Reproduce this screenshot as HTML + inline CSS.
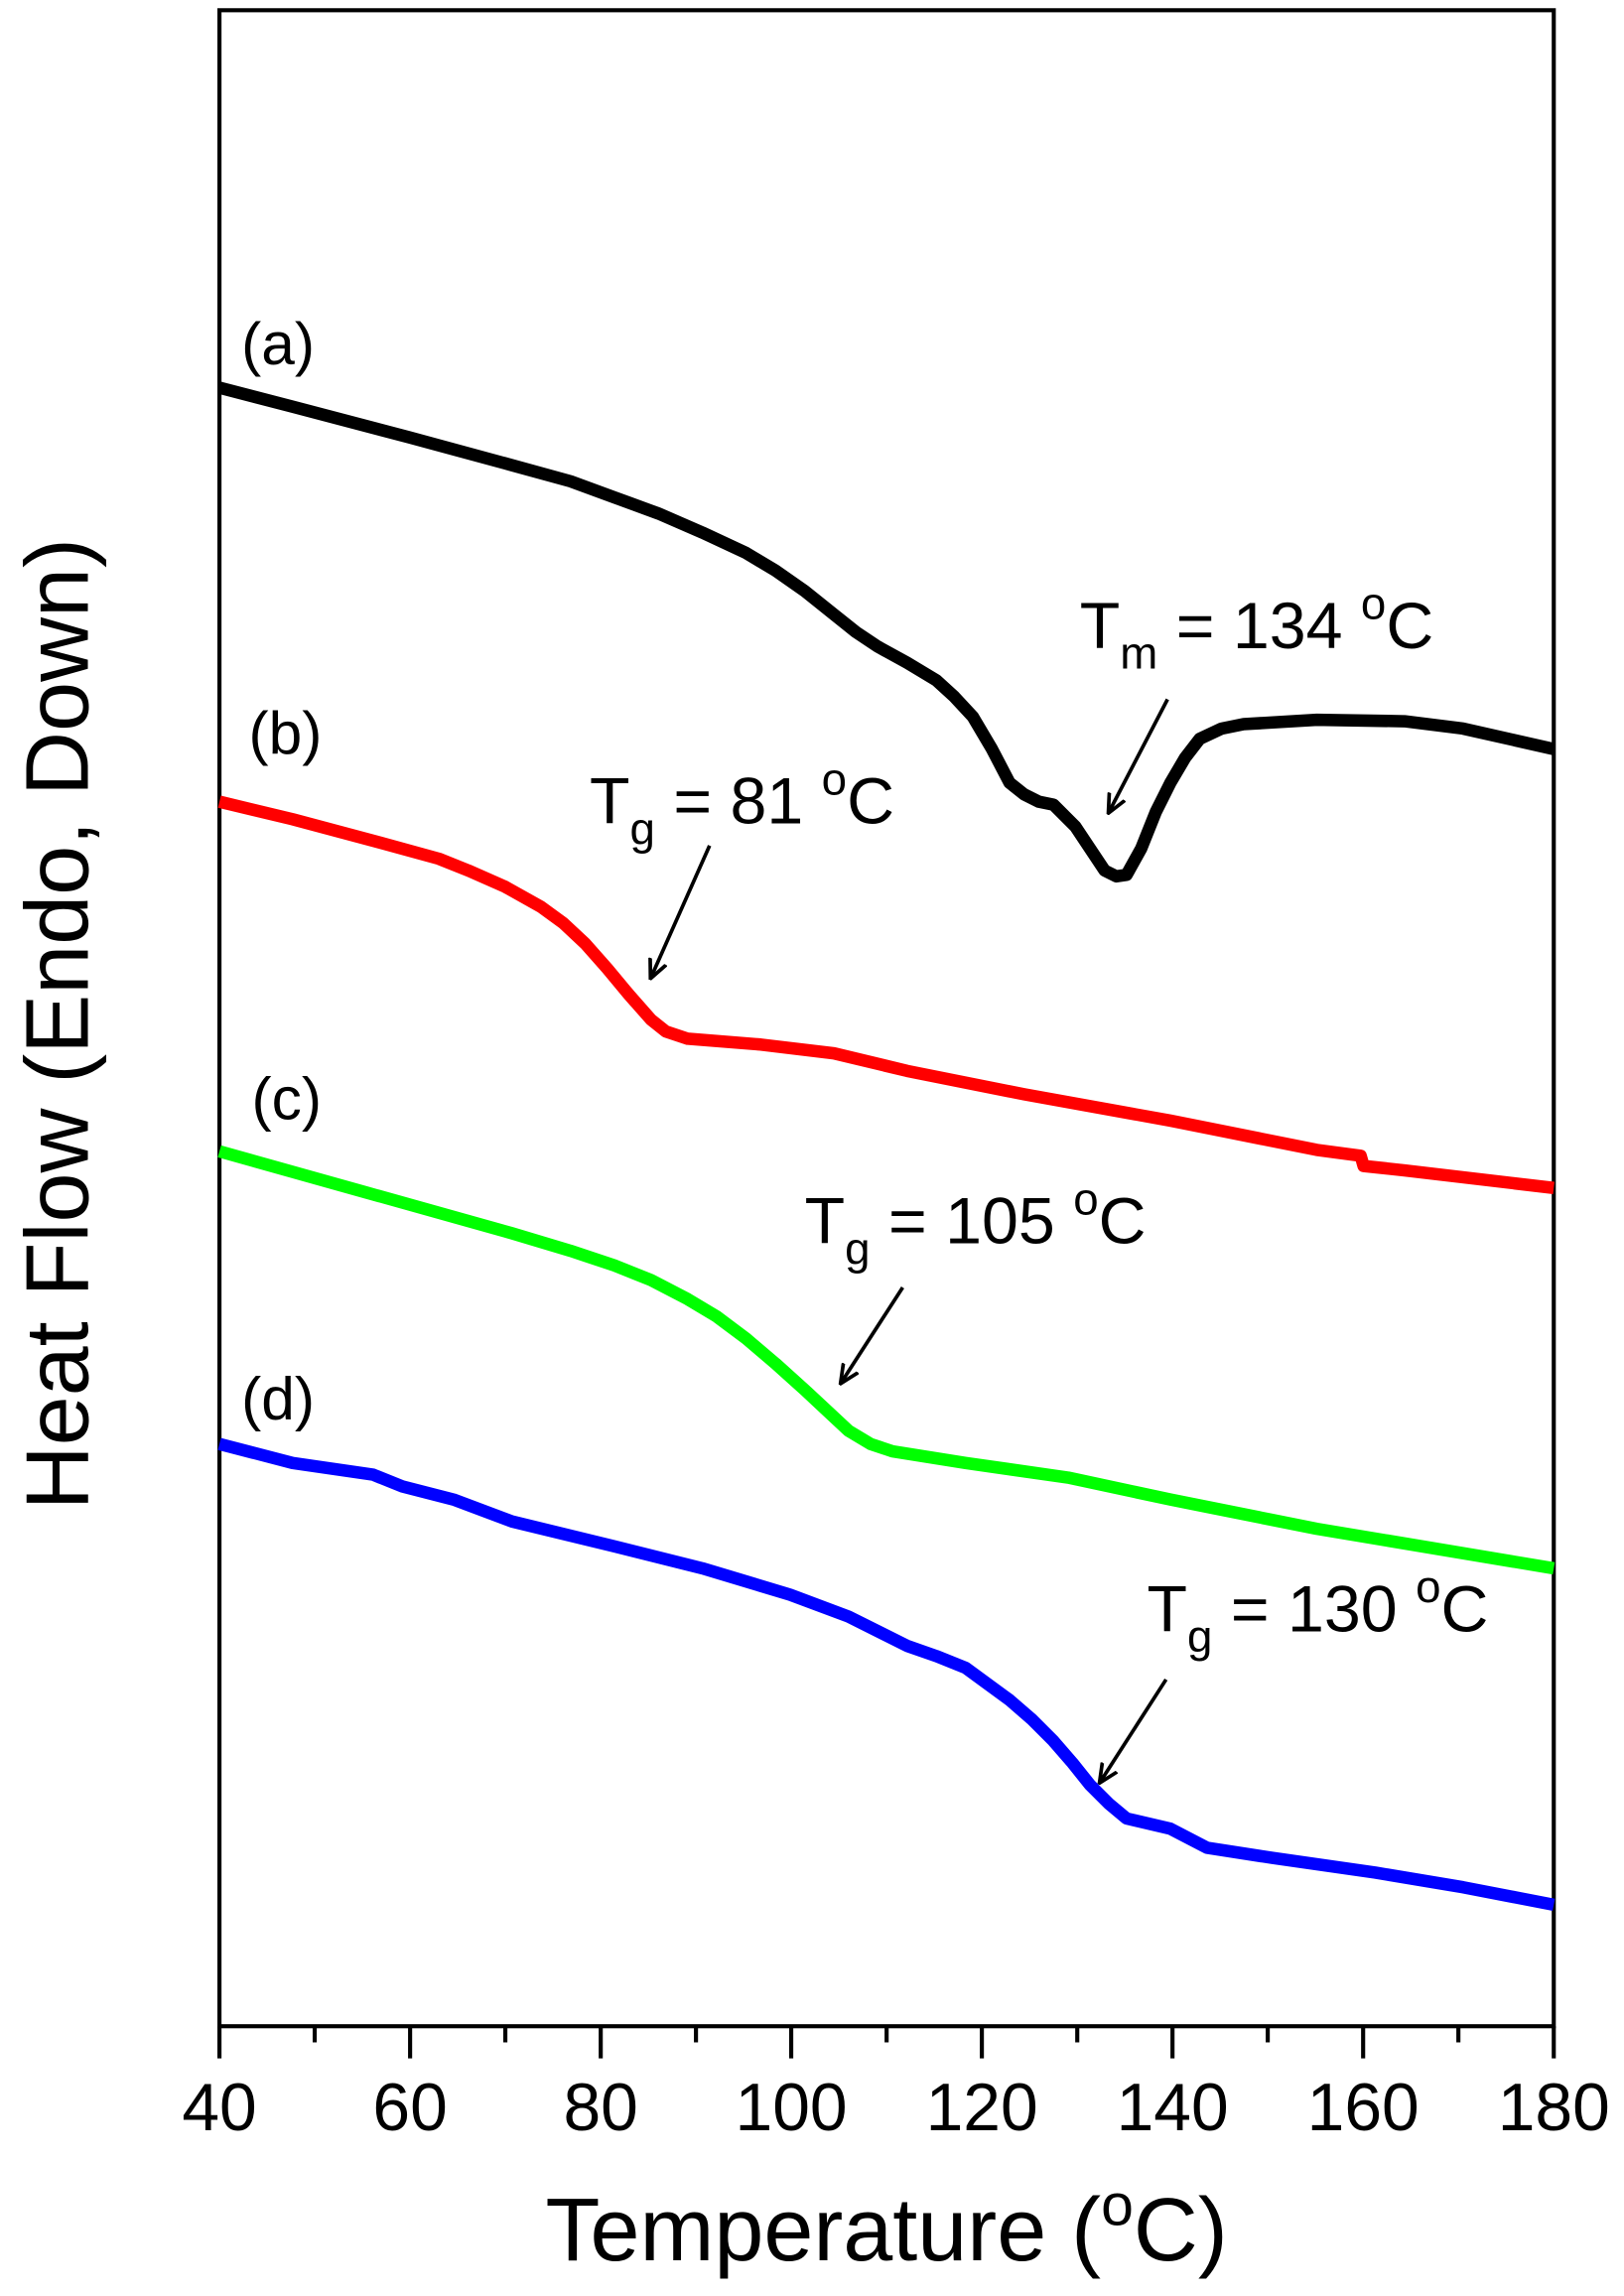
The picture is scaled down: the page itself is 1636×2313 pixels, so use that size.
<!DOCTYPE html>
<html><head><meta charset="utf-8"><style>html,body{margin:0;padding:0;background:#fff}svg{display:block}</style></head>
<body>
<svg width="1636" height="2313" viewBox="0 0 1110 1569.4" preserveAspectRatio="none" xmlns="http://www.w3.org/2000/svg" font-family="Liberation Sans, Arial, sans-serif">
<defs><marker id="ah" markerWidth="14" markerHeight="14" refX="12" refY="7" orient="auto" markerUnits="userSpaceOnUse"><path d="M0,1 L13,7 L0,13" fill="none" stroke="#000" stroke-width="2.5"/></marker></defs>
<rect x="150" y="7" width="912" height="1378" fill="none" stroke="#000" stroke-width="2.8"/>
<g stroke="#000" stroke-width="2.8">
<path d="M150,1385v22M280.3,1385v22M410.6,1385v22M540.8,1385v22M671.1,1385v22M801.4,1385v22M931.7,1385v22M1062,1385v22"/>
<path d="M215.1,1385v11M345.4,1385v11M475.7,1385v11M606,1385v11M736.3,1385v11M866.5,1385v11M996.8,1385v11"/>
</g>
<g font-size="46" text-anchor="middle">
<text x="150" y="1456">40</text><text x="280.3" y="1456">60</text><text x="410.6" y="1456">80</text><text x="540.8" y="1456">100</text><text x="671.1" y="1456">120</text><text x="801.4" y="1456">140</text><text x="931.7" y="1456">160</text><text x="1062" y="1456">180</text>
</g>
<text x="606" y="1545" font-size="61" text-anchor="middle">Temperature (<tspan font-size="40" dy="-24">o</tspan><tspan dy="24">C)</tspan></text>
<text transform="translate(60,700) rotate(-90)" font-size="61" text-anchor="middle">Heat Flow (Endo, Down)</text>
<g fill="none" stroke-width="8.5" stroke-linejoin="round" stroke-linecap="butt">
<polyline stroke="#000" points="150,265 200,278 280,299 350,318 390,329 420,340 450,351 480,364 510,378 530,390 550,404 570,420 585,432 600,442 620,453 640,465 652,476 665,490 678,512 690,535 700,543 710,548 720,550 735,565 745,580 755,595 763,599 770,598 780,580 790,555 800,535 810,518 820,505 835,498 850,495 900,492 960,493 1000,498 1062,512"/>
<polyline stroke="#ff0000" points="150,548 200,560 260,576 300,587 320,595 345,606 370,620 385,631 400,645 415,662 430,680 445,697 455,705 470,710 520,714 570,720 620,732 700,748 800,766 900,786 930,790 932,797 960,800 1062,812"/>
<polyline stroke="#00ff00" points="150,787 250,815 350,843 390,855 420,865 445,875 470,888 490,900 510,915 530,932 550,950 565,964 580,978 595,987 610,992 660,1000 730,1010 800,1025 900,1045 1062,1072"/>
<polyline stroke="#0000ff" points="150,987 200,1000 255,1008 275,1016 310,1025 350,1040 420,1057 480,1072 540,1090 580,1105 620,1125 640,1132 660,1140 690,1162 705,1175 720,1190 733,1205 745,1220 758,1233 770,1243 800,1250 825,1263 870,1270 940,1280 1000,1290 1062,1302"/>
</g>
<g font-size="41">
<text x="165" y="249">(a)</text><text x="170" y="515">(b)</text><text x="172" y="765">(c)</text><text x="165" y="970">(d)</text>
</g>
<g font-size="45">
<text x="738" y="443">T<tspan font-size="31" dy="14">m</tspan><tspan dy="-14"> = 134 </tspan><tspan font-size="31" dy="-20">o</tspan><tspan dy="20">C</tspan></text>
<text x="403" y="563">T<tspan font-size="31" dy="14">g</tspan><tspan dy="-14"> = 81 </tspan><tspan font-size="31" dy="-20">o</tspan><tspan dy="20">C</tspan></text>
<text x="550" y="850">T<tspan font-size="31" dy="14">g</tspan><tspan dy="-14"> = 105 </tspan><tspan font-size="31" dy="-20">o</tspan><tspan dy="20">C</tspan></text>
<text x="784" y="1115">T<tspan font-size="31" dy="14">g</tspan><tspan dy="-14"> = 130 </tspan><tspan font-size="31" dy="-20">o</tspan><tspan dy="20">C</tspan></text>
</g>
<g stroke="#000" stroke-width="2.5" marker-end="url(#ah)">
<line x1="798" y1="478" x2="758" y2="555"/>
<line x1="485" y1="578" x2="445" y2="668"/>
<line x1="617" y1="880" x2="575" y2="945"/>
<line x1="797" y1="1148" x2="752" y2="1218"/>
</g>
</svg>
</body></html>
